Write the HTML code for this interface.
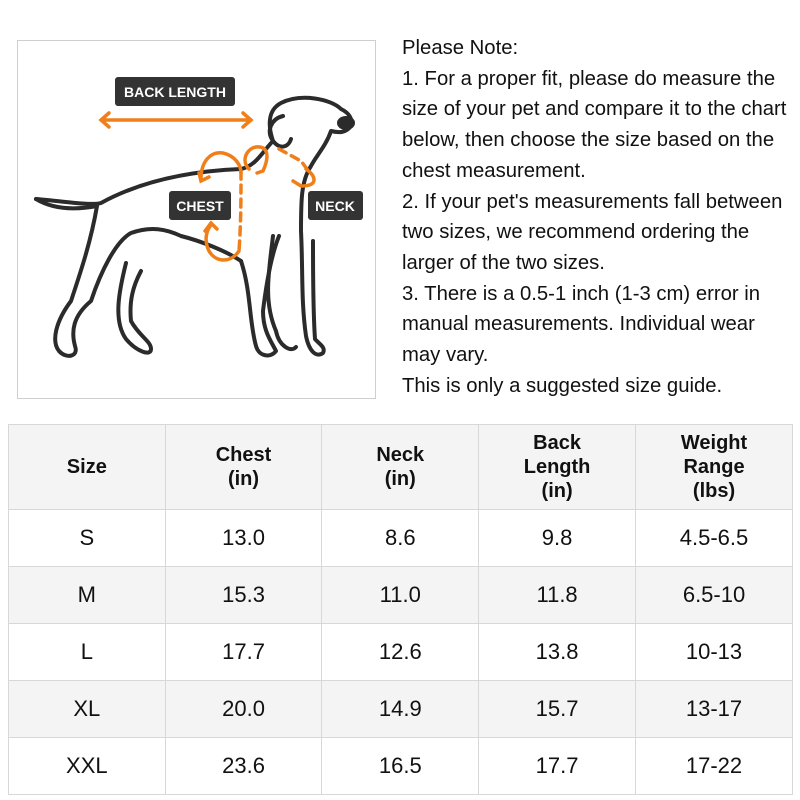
<!DOCTYPE html>
<html><head><meta charset="utf-8"><style>
html,body{margin:0;padding:0;background:#fff;width:800px;height:800px;overflow:hidden;font-family:"Liberation Sans","Noto Sans CJK SC",sans-serif;color:#111}
.img{position:absolute;left:17px;top:40px;width:359px;height:359px;border:1px solid #cfcfcf;box-sizing:border-box}
.note{position:absolute;left:402px;top:33px;font-size:20.3px;line-height:30.7px;color:#111;width:398px;white-space:nowrap}
table{position:absolute;left:8px;top:424px;border-collapse:collapse;width:785px}
td{border:1px solid #d8d8d8;text-align:center;font-size:22px;height:56px;padding:0;width:157px}
tr.h td{font-weight:bold;font-size:20px;line-height:24px;height:84px;background:#f4f4f4}
tr.g td{background:#f4f4f4}
</style></head><body>
<div class="img">
<svg width="359" height="359" viewBox="17 40 359 359" xmlns="http://www.w3.org/2000/svg">
<g fill="none" stroke="#2b2b2b" stroke-width="4" stroke-linecap="round" stroke-linejoin="round">
<path d="M35 198 C60 200 90 205 100 202 C140 180 190 170 240 168 C255 165 262 150 272 140"/>
<path d="M35 198 C55 210 80 208 96 205 C90 240 80 270 70 300 C55 320 50 340 58 350 C65 358 78 356 74 345 C70 330 72 315 90 300 C100 270 115 240 130 232 C150 225 165 228 180 235 C200 240 225 250 240 260"/>
<path d="M125 262 C118 290 112 320 125 338 C135 350 150 356 150 348 C150 340 138 335 130 320 C128 300 132 285 140 270"/>
<path d="M240 260 C250 290 248 320 255 345 C258 356 270 357 275 350 C270 340 262 330 262 310 C265 285 270 255 278 235"/>
<path d="M272 140 C268 128 265 110 280 102 C300 92 330 98 340 108 C348 112 352 118 350 125 C345 132 338 132 330 130 C325 145 315 155 310 165 C300 180 300 200 300 230 C302 270 300 300 305 335 C308 350 315 357 322 352 C325 346 318 343 314 338 C312 310 312 260 312 240"/>
<path d="M282 115 C270 118 265 130 272 140 C280 150 288 145 290 138"/>
<path d="M272 235 C268 270 262 300 275 330 C278 345 290 352 295 346"/>
</g>
<ellipse cx="345" cy="122" rx="9" ry="7" fill="#2b2b2b"/>
<g fill="none" stroke="#f07f1a" stroke-width="3.5" stroke-linecap="round">
<path d="M100 119 H250 M108 112 L100 119 L108 126 M242 112 L250 119 L242 126"/>
<path d="M200 178 C200 160 210 150 222 152 C235 155 240 165 240 172"/>
<path d="M198 172 L200 180 L208 176"/>
<path d="M240 170 C240 200 240 220 238 250" stroke-dasharray="8 6"/>
<path d="M238 250 C230 262 215 262 208 250 C203 240 205 230 210 224"/>
<path d="M204 230 L210 222 L216 228"/>
<path d="M248 168 C240 160 245 148 255 146 C265 145 270 152 262 170 L256 172"/>
<path d="M278 148 L300 160 L306 168" stroke-dasharray="8 6"/>
<path d="M305 168 C315 175 318 185 300 185 L292 180"/>
</g>
<g font-family="Liberation Sans,sans-serif" font-weight="bold" font-size="14" fill="#fff">
<rect x="114" y="76" width="120" height="29" rx="3" fill="#333"/><text x="174" y="96" text-anchor="middle">BACK LENGTH</text>
<rect x="168" y="190" width="62" height="29" rx="3" fill="#333"/><text x="199" y="210" text-anchor="middle">CHEST</text>
<rect x="307" y="190" width="55" height="29" rx="3" fill="#333"/><text x="334" y="210" text-anchor="middle">NECK</text>
</g>
</svg></div>
<div class="note">Please Note:<br>1. For a proper fit, please do measure the<br>size of your pet and compare it to the chart<br>below, then choose the size based on the<br>chest measurement.<br>2. If your pet's measurements fall between<br>two sizes, we recommend ordering the<br>larger of the two sizes.<br>3. There is a 0.5-1 inch (1-3 cm) error in<br>manual measurements. Individual wear<br>may vary.<br>This is only a suggested size guide.</div>
<table>
<tr class="h"><td>Size</td><td>Chest<br>(in)</td><td>Neck<br>(in)</td><td>Back<br>Length<br>(in)</td><td>Weight<br>Range<br>(lbs)</td></tr>
<tr><td>S</td><td>13.0</td><td>8.6</td><td>9.8</td><td>4.5-6.5</td></tr>
<tr class="g"><td>M</td><td>15.3</td><td>11.0</td><td>11.8</td><td>6.5-10</td></tr>
<tr><td>L</td><td>17.7</td><td>12.6</td><td>13.8</td><td>10-13</td></tr>
<tr class="g"><td>XL</td><td>20.0</td><td>14.9</td><td>15.7</td><td>13-17</td></tr>
<tr><td>XXL</td><td>23.6</td><td>16.5</td><td>17.7</td><td>17-22</td></tr>
</table>
</body></html>
